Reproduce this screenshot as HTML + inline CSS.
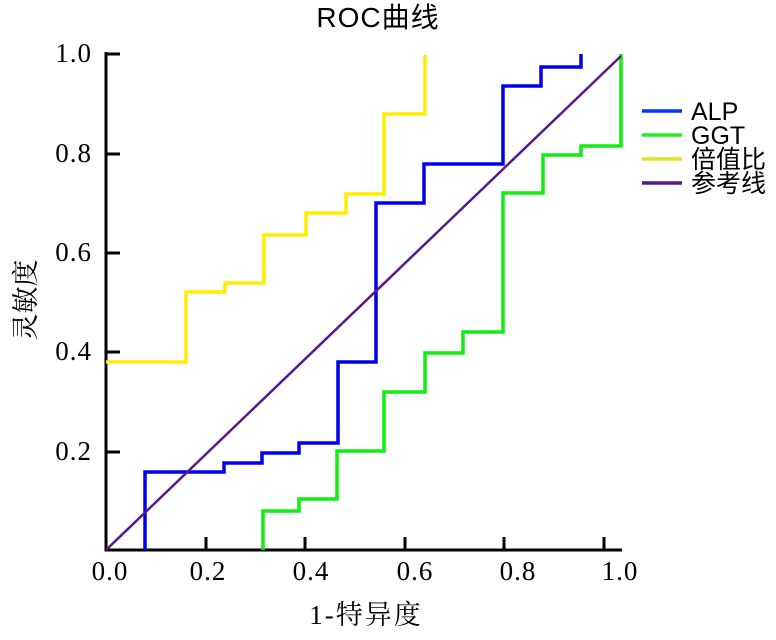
<!DOCTYPE html>
<html><head><meta charset="utf-8"><style>
body{margin:0;background:#fff;width:776px;height:640px;overflow:hidden}
svg{display:block}
.t{font-family:"Liberation Serif","Noto Serif CJK SC",serif;font-size:27px;fill:#000}
.s{font-family:"Liberation Sans","Noto Sans CJK SC",sans-serif;fill:#000}
</style></head><body>
<svg width="776" height="640" viewBox="0 0 776 640">
<text class="s" x="378" y="27" font-size="28" letter-spacing="1" text-anchor="middle">ROC曲线</text>
<!-- axes -->
<g stroke="#000" stroke-width="3" fill="none">
<path d="M106 52 V550 H622"/>
<path d="M106 54 H120 M106 154 H120 M106 253 H120 M106 352 H120 M106 452 H120"/>
<path d="M206 550 V537 M305 550 V537 M405 550 V537 M504 550 V537 M604 550 V537"/>
</g>
<g class="t" text-anchor="end" letter-spacing="1">
<text x="92" y="62">1.0</text><text x="92" y="162">0.8</text><text x="92" y="261">0.6</text><text x="92" y="360">0.4</text><text x="92" y="460">0.2</text>
</g>
<g class="t" text-anchor="middle" letter-spacing="1">
<text x="110" y="580">0.0</text><text x="208" y="580">0.2</text><text x="311" y="580">0.4</text><text x="415" y="580">0.6</text><text x="518" y="580">0.8</text><text x="620" y="580">1.0</text>
</g>
<text class="t" x="366" y="624" text-anchor="middle" font-size="28" letter-spacing="2">1-特异度</text>
<text class="t" transform="translate(35,300) rotate(-90)" text-anchor="middle" font-size="27">灵敏度</text>
<!-- series -->
<g fill="none" stroke-width="3.5" stroke-linejoin="miter">
<path stroke="#ffee00" d="M106 362 H186 V292 H225 V283 H264 V235 H306 V213 H346 V194 H384 V114 H425 V55"/>
<path stroke="#0000ee" d="M145 550 V472 H224 V463 H262 V453 H299 V443 H338 V362 H376 V203 H424 V164 H503 V86 H541 V67 H581 V54"/>
<path stroke="#11ee11" d="M263 550 V511 H299 V499 H337 V451 H384 V392 H425 V353 H463 V332 H503 V193 H543 V155 H581 V146 H621 V54"/>
<path stroke="#551a8b" stroke-width="2.5" d="M106 550 L621 56"/>
</g>
<!-- legend -->
<g stroke-width="3.5">
<line x1="642" y1="111" x2="682" y2="111" stroke="#0033ff"/>
<line x1="642" y1="135" x2="682" y2="135" stroke="#22ee22"/>
<line x1="642" y1="159" x2="682" y2="159" stroke="#e8e020"/>
<line x1="642" y1="183" x2="682" y2="183" stroke="#551a8b"/>
</g>
<g class="s" font-size="25">
<text x="691" y="120">ALP</text><text x="691" y="144">GGT</text><text x="691" y="168">倍值比</text><text x="691" y="192">参考线</text>
</g>
</svg>
</body></html>
